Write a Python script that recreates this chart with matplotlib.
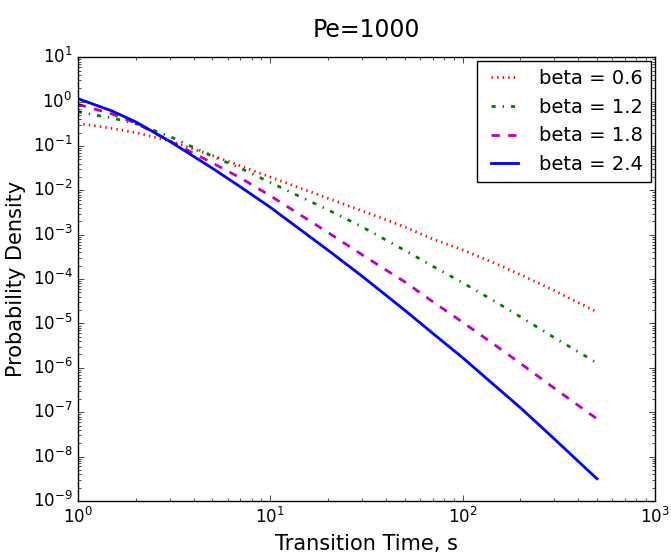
import matplotlib
matplotlib.use("Agg")
import matplotlib.pyplot as plt

# transition time (s) and density
t = [1, 1.5, 2, 3, 5, 7, 10, 20, 30, 50, 70, 100, 150, 200, 300, 500]

pdf_06 = [0.324, 0.250, 0.200, 0.130, 0.0615, 0.0355, 0.0200, 6.61e-3,
          3.47e-3, 1.51e-3, 8.0e-4, 4.57e-4, 2.2e-4, 1.26e-4, 5.50e-5, 1.82e-5]
pdf_12 = [0.589, 0.430, 0.320, 0.165, 0.0590, 0.0316, 0.0151, 3.63e-3,
          1.51e-3, 4.47e-4, 1.95e-4, 8.32e-5, 3.0e-5, 1.41e-5, 4.79e-6, 1.29e-6]
pdf_18 = [0.871, 0.530, 0.330, 0.130, 0.0417, 0.0191, 7.59e-3, 1.12e-3,
          3.55e-4, 8.71e-5, 3.1e-5, 1.07e-5, 3.1e-6, 1.26e-6, 3.47e-7, 7.08e-8]
pdf_24 = [1.17, 0.620, 0.350, 0.128, 0.0316, 0.0120, 4.17e-3, 4.47e-4,
          1.17e-4, 2.0e-5, 6.0e-6, 1.70e-6, 3.7e-7, 1.26e-7, 2.5e-8, 3.16e-9]

labels = ["beta = 0.6", "beta = 1.2", "beta = 1.8", "beta = 2.4"]

plt.style.use("classic")
plt.rcParams["savefig.facecolor"] = "white"

fig = plt.figure(figsize=(6.71, 5.56), dpi=100, facecolor="white")
ax = fig.add_axes([0.116, 0.099, 0.860, 0.798])

ax.loglog(t, pdf_06, "r:", lw=2, label=labels[0])
ax.loglog(t, pdf_12, "g-.", lw=2, label=labels[1])
ax.loglog(t, pdf_18, "m--", lw=2, label=labels[2])
ax.loglog(t, pdf_24, "b-", lw=2, label=labels[3])

ax.set_xlim(1, 1000)
ax.set_ylim(1e-9, 10)
ax.tick_params(labelsize=12)

ax.set_xlabel("Transition Time, s", fontsize=15)
ax.set_ylabel("Probability Density", fontsize=15)
ax.set_title("Pe=1000", fontsize=17, y=1.03)

ax.legend(loc="upper right", fontsize=14, borderaxespad=0.2)

fig.savefig("out.png", dpi=100)
